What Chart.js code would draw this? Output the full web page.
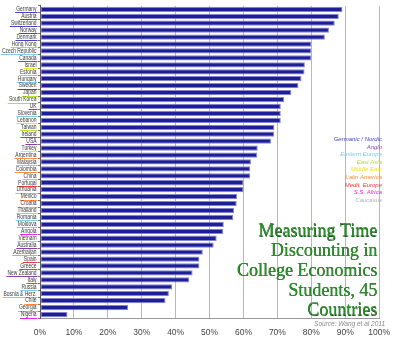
<!DOCTYPE html>
<html>
<head>
<meta charset="utf-8">
<script src="https://cdn.jsdelivr.net/npm/chart.js@4"></script>
<style>
  html, body { margin: 0; padding: 0; background: #fff; }
  #wrap { width: 400px; height: 347px; }
</style>
</head>
<body>
<div id="wrap"><canvas id="chart"></canvas></div>
<script>
const countries = ['Germany', 'Austria', 'Switzerland', 'Norway', 'Denmark', 'Hong Kong', 'Czech Republic', 'Canada',
    'Israel', 'Estonia', 'Hungary', 'Sweden', 'Japan', 'South Korea', 'UK', 'Slovenia', 'Lebanon', 'Taiwan',
    'Ireland', 'USA', 'Turkey', 'Argentina', 'Malaysia', 'Colombia', 'China', 'Portugal', 'Lithuania', 'Mexico',
    'Croatia', 'Thailand', 'Romania', 'Moldova', 'Angola', 'Vietnam', 'Australia', 'Azerbaijan', 'Spain', 'Greece',
    'New Zealand', 'Italy', 'Russia', 'Bosnia & Herz.', 'Chile', 'Georgia', 'Nigeria'];
const values = [89.2, 88.1, 86.9, 85.2, 84, 80, 80, 80,
    78.1, 78, 77.1, 76.2, 74.1, 72, 71, 71, 71, 69.1,
    69, 68.1, 64.2, 64, 62.2, 62, 62, 60, 60, 58.1,
    58, 57.2, 57, 54.2, 54, 52.1, 51.2, 48, 47, 47,
    45, 44, 39, 38, 37, 26, 8.1];
const countryRegion = ['GN', 'GN', 'GN', 'GN', 'GN', 'EA', 'EE', 'AN',
    'ME', 'EE', 'EE', 'GN', 'EA', 'EA', 'AN', 'EE', 'ME', 'EA',
    'AN', 'AN', 'ME', 'LA', 'EA', 'LA', 'EA', 'MD', 'EE', 'LA',
    'EE', 'EA', 'EE', 'EE', 'SS', 'EA', 'AN', 'CA', 'MD', 'MD',
    'AN', 'MD', 'EE', 'EE', 'LA', 'CA', 'SS'];
const regionKeys = ['GN', 'AN', 'EE', 'EA', 'ME', 'LA', 'MD', 'SS', 'CA'];
const regionNames = ['Germanic / Nordic', 'Anglo', 'Eastern Europe', 'East Asia', 'Middle East',
    'Latin America', 'Medit. Europe', 'S.S. Africa', 'Caucasus'];
const regionColors = ['#4444c4', '#8a3ea8', '#7fcbee', '#b4e02a', '#f2e12a', '#ff8a3c', '#f0383c', '#f020f0', '#b0b0b0'];
const xTicks = [0, 10, 20, 30, 40, 50, 60, 70, 80, 90, 100];
const titleLines = ['Measuring Time', 'Discounting in', 'College Economics', 'Students, 45', 'Countries'];
const sourceText = 'Source: Wang et al 2011';

const labelFont = '6.5px "Liberation Sans", Arial, sans-serif';
const squeeze = 0.76;   // labels in the original are set in a narrow face

function colorFor(region) {
    return regionColors[regionKeys.indexOf(region)];
}

// country labels (narrow) with a colored underline for the region
const labelPlugin = {
    id: 'countryLabels',
    afterDraw(chart) {
        const ctx = chart.ctx;
        const y = chart.scales.y;
        const right = y.right - 3.5;
        ctx.save();
        ctx.font = labelFont;
        ctx.textAlign = 'right';
        ctx.textBaseline = 'middle';
        y.ticks.forEach((t, i) => {
            const name = y.getLabelForValue(t.value);
            const py = y.getPixelForTick(i);
            const w = ctx.measureText(name).width * squeeze;
            ctx.save();
            ctx.translate(right, py);
            ctx.scale(squeeze, 1);
            ctx.fillStyle = '#3a3a3a';
            ctx.fillText(name, 0, 0);
            ctx.restore();
            ctx.strokeStyle = colorFor(countryRegion[i]);
            ctx.lineWidth = 1;
            ctx.beginPath();
            ctx.moveTo(right - w - 1, Math.round(py + 3) + 0.5);
            ctx.lineTo(right + 1, Math.round(py + 3) + 0.5);
            ctx.stroke();
        });
        ctx.restore();
    }
};

// region key, title and source
const notesPlugin = {
    id: 'notes',
    afterDraw(chart) {
        const ctx = chart.ctx;
        ctx.save();
        ctx.textAlign = 'right';
        ctx.textBaseline = 'alphabetic';
        ctx.font = 'italic 6px "Liberation Sans", Arial, sans-serif';
        regionNames.forEach((name, i) => {
            ctx.fillStyle = regionColors[i];
            ctx.fillText(name, 382, 141 + i * 7.6);
        });

        ctx.font = '18px "Liberation Serif", serif';
        titleLines.forEach((line, i) => {
            ctx.fillStyle = '#1a4f1a';
            ctx.fillText(line, 377.6, 236.6 + i * 19.8);
            ctx.fillStyle = '#2b8f2b';
            ctx.fillText(line, 377.2, 236.2 + i * 19.8);
        });

        ctx.font = 'italic 6.5px "Liberation Sans", Arial, sans-serif';
        ctx.fillStyle = '#8a8a8a';
        ctx.fillText(sourceText, 385, 326);
        ctx.restore();
    }
};

new Chart(document.getElementById('chart'), {
    type: 'bar',
    data: {
        labels: countries,
        datasets: [{
            data: values,
            backgroundColor: '#1e1e98',
            borderColor: '#8585cc',
            borderWidth: 1,
            borderSkipped: false,
            barPercentage: 0.76,
            categoryPercentage: 1
        }]
    },
    options: {
        indexAxis: 'y',
        responsive: true,
        maintainAspectRatio: false,
        animation: false,
        layout: { padding: { top: 2, right: 16, left: 0, bottom: 0 } },
        plugins: {
            legend: { display: false },
            tooltip: { enabled: false }
        },
        scales: {
            x: {
                min: 0,
                max: 100,
                afterBuildTicks: (scale) => { scale.ticks = xTicks.map(v => ({ value: v })); },
                afterFit: (scale) => { scale.height = 29; },
                grid: { color: '#b8b8b8', lineWidth: 1, tickLength: 0 },
                border: { color: '#9a9a9a' },
                ticks: {
                    padding: 10,
                    color: '#444',
                    font: { family: '"Liberation Sans", Arial, sans-serif', size: 8.5 },
                    callback: (v) => v + '%'
                }
            },
            y: {
                afterFit: (scale) => { scale.width = 40; },
                grid: { drawOnChartArea: false, tickLength: 2, color: '#777', offset: true },
                border: { color: '#555' },
                ticks: {
                    autoSkip: false,
                    padding: 2,
                    color: 'rgba(0,0,0,0)',
                    font: { family: '"Liberation Sans", Arial, sans-serif', size: 6.5 }
                }
            }
        }
    },
    plugins: [labelPlugin, notesPlugin]
});
</script>
</body>
</html>
